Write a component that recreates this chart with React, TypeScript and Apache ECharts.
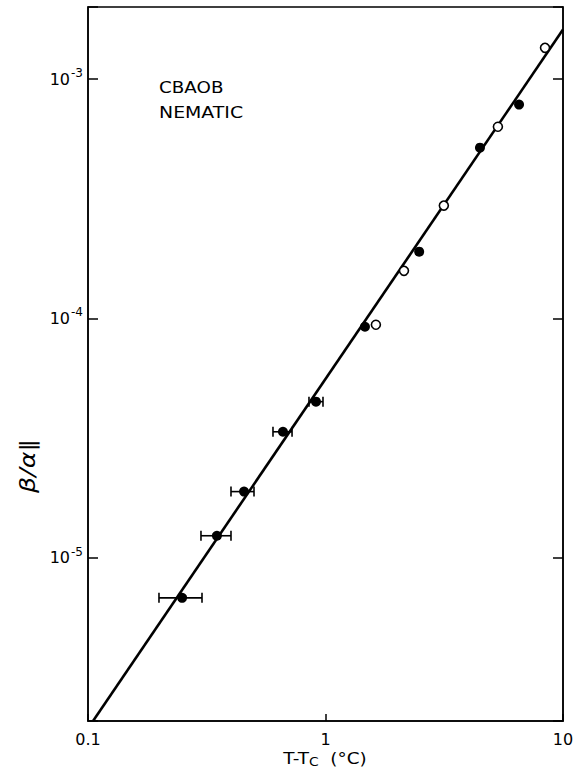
import React, { useEffect, useRef } from "react";
import * as echarts from "echarts";

// ---- data ----
const filledX = [0.249, 0.349, 0.454, 0.662, 0.912, 1.466, 2.48, 4.47, 6.53];
const filledY = [6.8e-6, 1.236e-5, 1.89e-5, 3.36e-5, 4.49e-5, 9.23e-5, 1.9e-4, 5.17e-4, 7.82e-4];
const errLow = [0.199, 0.299, 0.4, 0.601, 0.852];
const errHigh = [0.302, 0.4, 0.5, 0.723, 0.976];
const openX = [1.63, 2.14, 3.15, 5.32, 8.4];
const openY = [9.41e-5, 1.58e-4, 2.96e-4, 6.32e-4, 1.35e-3];
const fitX = [0.105, 10];
const fitY = [2.08e-6, 1.61e-3];
const xRange = [0.1, 10];
const yRange = [2.08e-6, 2.0e-3];
const sampleLabel = ["CBAOB", "NEMATIC"];

const FONT = "DejaVu Sans";

export default function App() {
  const ref = useRef<HTMLDivElement>(null);
  useEffect(() => {
    if (!ref.current) return;
    const chart = echarts.init(ref.current, null, { renderer: "svg" });
    const filled = filledX.map((x, i) => [x, filledY[i]]);
    const open = openX.map((x, i) => [x, openY[i]]);
    const fit = fitX.map((x, i) => [x, fitY[i]]);
    const errs = errLow.map((lo, i) => [lo, errHigh[i], filledY[i]]);

    const yLabel = (v: number) => {
      const l = Math.log10(v);
      const e = Math.round(l);
      if (Math.abs(l - e) > 1e-6) return "";
      return "{b|10}{s|" + e + "}";
    };
    const xLabel = (v: number) => {
      const l = Math.log10(v);
      if (Math.abs(l - Math.round(l)) > 1e-6) return "";
      return String(Number(v.toPrecision(3)));
    };
    const tickStyle = { color: "#000", width: 1.5 };

    chart.setOption({
      animation: false,
      backgroundColor: "#fff",
      grid: {
        left: 88,
        right: 15,
        top: 7,
        bottom: 49,
        show: true,
        borderColor: "#000",
        borderWidth: 1.5,
        backgroundColor: "transparent",
      },
      xAxis: {
        type: "log",
        logBase: 10,
        min: xRange[0],
        max: xRange[1],
        axisLine: { show: true, lineStyle: tickStyle },
        axisTick: { show: true, inside: true, length: 7, lineStyle: tickStyle },
        minorTick: { show: false },
        splitLine: { show: false },
        axisLabel: {
          formatter: xLabel,
          margin: 10,
          color: "#000",
          fontSize: 16,
          fontFamily: FONT,
          showMinLabel: true,
          showMaxLabel: true,
        },
      },
      yAxis: [
        {
          type: "log",
          logBase: 10,
          min: yRange[0],
          max: yRange[1],
          position: "left",
          axisLine: { show: true, lineStyle: tickStyle },
          axisTick: { show: true, inside: true, length: 10, lineStyle: tickStyle },
          minorTick: { show: false },
          splitLine: { show: false },
          axisLabel: {
            formatter: yLabel,
            margin: 5,
            color: "#000",
            fontSize: 16,
            fontFamily: FONT,
            rich: {
              b: { fontSize: 16, fontFamily: FONT, color: "#000" },
              s: { fontSize: 12, fontFamily: FONT, color: "#000", padding: [0, 0, 12, 1] },
            },
          },
        },
        {
          type: "log",
          logBase: 10,
          min: yRange[0],
          max: yRange[1],
          position: "right",
          axisLine: { show: true, lineStyle: tickStyle },
          axisTick: { show: true, inside: true, length: 10, lineStyle: tickStyle },
          minorTick: { show: false },
          splitLine: { show: false },
          axisLabel: { show: false },
        },
      ],
      graphic: [
        {
          type: "text",
          x: 159,
          y: 88,
          scaleX: 1.22,
          style: {
            text: sampleLabel[0],
            font: "15px '" + FONT + "'",
            fill: "#000",
            align: "left",
            verticalAlign: "middle",
          },
        },
        {
          type: "text",
          x: 159,
          y: 113,
          scaleX: 1.26,
          style: {
            text: sampleLabel[1],
            font: "15px '" + FONT + "'",
            fill: "#000",
            align: "left",
            verticalAlign: "middle",
          },
        },
        {
          type: "text",
          x: 325,
          y: 758,
          scaleX: 1.15,
          style: {
            text: "{a|T-T}{s|C}{a|  (°C)}",
            align: "center",
            verticalAlign: "middle",
            fill: "#000",
            rich: {
              a: { fontSize: 16, fontFamily: FONT, color: "#000" },
              s: { fontSize: 12, fontFamily: FONT, color: "#000", padding: [7, 0, 0, 0] },
            },
          },
        },
        {
          type: "text",
          x: 27,
          y: 466,
          rotation: Math.PI / 2,
          scaleX: 1.2,
          style: {
            text: "β/α∥",
            font: "italic 21px '" + FONT + "'",
            fill: "#000",
            align: "center",
            verticalAlign: "middle",
          },
        },
      ],
      series: [
        {
          type: "line",
          data: fit,
          showSymbol: false,
          symbol: "none",
          lineStyle: { color: "#000", width: 2.6 },
          z: 2,
        },
        {
          type: "custom",
          data: errs,
          encode: { x: [0, 1], y: 2 },
          z: 3,
          renderItem: (params: any, api: any) => {
            const y = api.value(2);
            const p1 = api.coord([api.value(0), y]);
            const p2 = api.coord([api.value(1), y]);
            const h = 5;
            const st = { stroke: "#000", lineWidth: 1.6 };
            return {
              type: "group",
              children: [
                { type: "line", shape: { x1: p1[0], y1: p1[1], x2: p2[0], y2: p2[1] }, style: st },
                { type: "line", shape: { x1: p1[0], y1: p1[1] - h, x2: p1[0], y2: p1[1] + h }, style: st },
                { type: "line", shape: { x1: p2[0], y1: p2[1] - h, x2: p2[0], y2: p2[1] + h }, style: st },
              ],
            };
          },
        },
        {
          type: "scatter",
          data: filled,
          symbol: "circle",
          symbolSize: 10,
          itemStyle: { color: "#000", opacity: 1 },
          z: 4,
        },
        {
          type: "scatter",
          data: open,
          symbol: "circle",
          symbolSize: 9,
          itemStyle: { color: "#fff", borderColor: "#000", borderWidth: 1.6, opacity: 1 },
          z: 4,
        },
      ],
    });
    return () => chart.dispose();
  }, []);
  return (
    <div
      ref={ref}
      style={{ position: "absolute", left: 0, top: 0, width: 578, height: 770, background: "#fff" }}
    />
  );
}
